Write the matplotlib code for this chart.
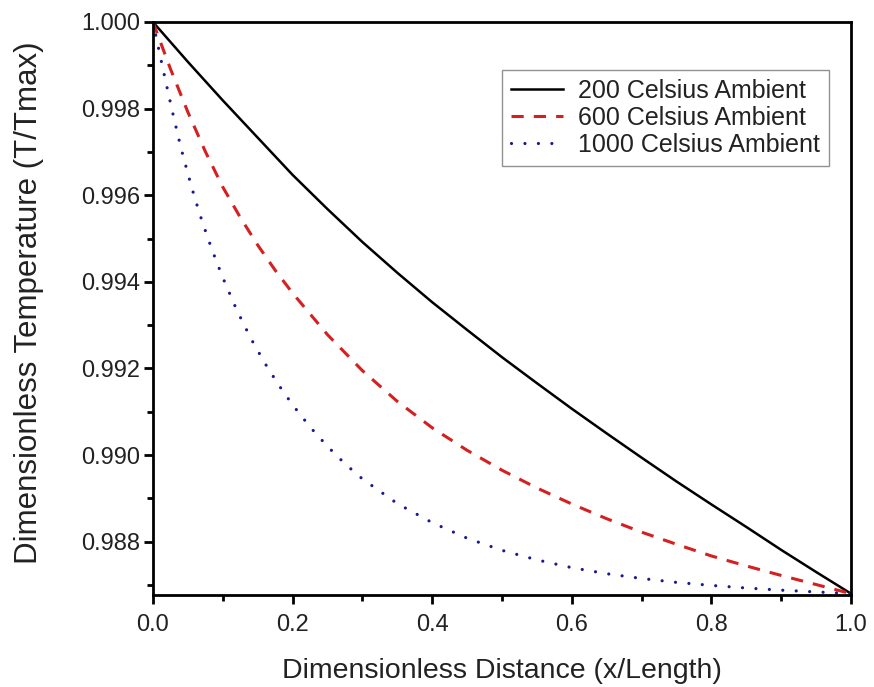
import matplotlib
matplotlib.use("Agg")
import matplotlib.pyplot as plt
from matplotlib.ticker import MultipleLocator, FormatStrFormatter

plt.rcParams['font.family'] = ['Liberation Sans', 'DejaVu Sans']

# Dimensionless distance / temperature
x_200 = [0.0, 0.05, 0.10, 0.15, 0.20, 0.25, 0.30, 0.35, 0.40, 0.45, 0.50, 0.55, 0.60,
         0.65, 0.70, 0.75, 0.80, 0.85, 0.90, 0.95, 1.0]
t_200 = [1.0, 0.99908, 0.99819, 0.99733, 0.99647, 0.99568, 0.99492, 0.99421, 0.99353,
         0.99289, 0.99226, 0.99166, 0.99107, 0.99050, 0.98994, 0.98939, 0.98886,
         0.98834, 0.98781, 0.98730, 0.98680]

x_600 = [0.0, 0.025, 0.05, 0.075, 0.10, 0.125, 0.15, 0.175, 0.20, 0.25, 0.30, 0.35, 0.40,
         0.45, 0.50, 0.55, 0.60, 0.65, 0.70, 0.75, 0.80, 0.85, 0.90, 0.95, 1.0]
t_600 = [1.0, 0.99892, 0.99792, 0.99701, 0.99619, 0.99549, 0.99485, 0.99427, 0.99374,
         0.99278, 0.99195, 0.99124, 0.99063, 0.99011, 0.98965, 0.98924, 0.98887,
         0.98853, 0.98822, 0.98794, 0.98767, 0.98744, 0.98722, 0.98701, 0.98680]

x_1000 = [0.0, 0.01, 0.02, 0.03, 0.04, 0.05, 0.06, 0.07, 0.08, 0.09, 0.10, 0.12, 0.14,
          0.16, 0.18, 0.20, 0.225, 0.25, 0.275, 0.30, 0.35, 0.40, 0.45, 0.50, 0.55,
          0.60, 0.65, 0.70, 0.75, 0.80, 0.85, 0.90, 0.95, 1.0]
t_1000 = [1.0, 0.99924, 0.99850, 0.99778, 0.99710, 0.99650, 0.99593, 0.99542, 0.99495,
          0.99451, 0.99410, 0.99335, 0.99270, 0.99213, 0.99162, 0.99116, 0.99065,
          0.99020, 0.98980, 0.98945, 0.98888, 0.98844, 0.98808, 0.98780, 0.98758,
          0.98740, 0.98726, 0.98715, 0.98706, 0.98699, 0.98693, 0.98688, 0.98684, 0.98680]

labels = ["200 Celsius Ambient", "600 Celsius Ambient", "1000 Celsius Ambient"]

fig = plt.figure(figsize=(8.74, 6.87), dpi=100)
ax = fig.add_axes([0.175, 0.134, 0.7987, 0.834])

ax.plot(x_200, t_200, color='black', lw=1.8, label=labels[0])
ax.plot(x_600, t_600, color='#d42020', lw=2.2, dashes=(4.0, 3.3), label=labels[1])
ax.plot(x_1000, t_1000, color='#1a1a8e', lw=2.3, dashes=(0.01, 4.2),
        dash_capstyle='round', label=labels[2])

ax.set_xlim(0, 1.0)
ax.set_ylim(0.98677, 1.0)
ax.xaxis.set_major_locator(MultipleLocator(0.2))
ax.xaxis.set_minor_locator(MultipleLocator(0.1))
ax.yaxis.set_major_locator(MultipleLocator(0.002))
ax.yaxis.set_minor_locator(MultipleLocator(0.001))
ax.xaxis.set_major_formatter(FormatStrFormatter('%.1f'))
ax.yaxis.set_major_formatter(FormatStrFormatter('%.3f'))

for s in ax.spines.values():
    s.set_linewidth(2.0)
ax.tick_params(which='major', direction='out', length=6.5, width=2, labelsize=17,
               colors='black', labelcolor='#222222')
ax.tick_params(axis='y', which='major', pad=3)
ax.tick_params(axis='x', which='major', pad=7)
ax.tick_params(which='minor', direction='out', length=4, width=2)
ax.tick_params(top=False, right=False, which='both')

ax.set_xlabel("Dimensionless Distance (x/Length)", fontsize=20.5, labelpad=16, color='#222222')
ax.set_ylabel("Dimensionless Temperature (T/Tmax)", fontsize=22.5, color='#222222')
ax.yaxis.set_label_coords(-0.156, 0.51)

leg = ax.legend(loc='upper right', bbox_to_anchor=(0.9685, 0.916), fontsize=18,
                frameon=True, fancybox=False, handlelength=2.1, handletextpad=0.6,
                borderpad=0.35, labelspacing=0.12, borderaxespad=0.0)
leg.get_frame().set_edgecolor('#777777')
leg.get_frame().set_linewidth(1.0)
for t in leg.get_texts():
    t.set_color('#222222')

fig.savefig("out.png", dpi=100)
